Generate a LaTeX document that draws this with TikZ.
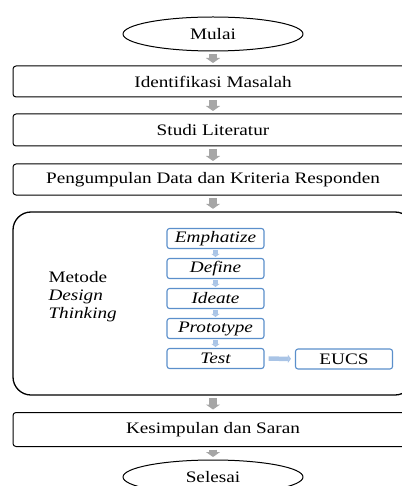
\documentclass[tikz,border=0pt]{standalone}
\usepackage{fontspec}
\setmainfont{Liberation Serif}[FakeStretch=1.2]
\usetikzlibrary{shapes.geometric,arrows.meta}
\definecolor{garisbiru}{HTML}{5B8FCB}
\definecolor{panahabu}{HTML}{A6A6A6}
\definecolor{panahbiru}{HTML}{A9C4E6}
\begin{document}
\begin{tikzpicture}[x=1pt,y=-1pt,line join=round]
			\tikzset{every node/.style={font=\fontsize{16}{18}\selectfont},
				kotak/.style={draw,rounded corners=3pt,line width=1pt,minimum width=400pt,minimum height=32pt,inner sep=0pt},
				oval/.style={draw,ellipse,line width=1pt,minimum width=180pt,minimum height=34pt,inner sep=0pt},
				tahap/.style={draw=garisbiru,rounded corners=2.5pt,line width=1.1pt,minimum width=97pt,minimum height=20pt,inner sep=0pt,font=\fontsize{16}{18}\selectfont\itshape},
				panah/.style={draw=panahabu,line width=8pt,-{Triangle[width=14pt,length=5pt]},shorten <=2.5pt,shorten >=2.5pt},
				panahkecil/.style={draw=panahbiru,line width=4.5pt,-{Triangle[width=8pt,length=3pt]},shorten <=1pt,shorten >=1pt}}
			\useasboundingbox (0,0) rectangle (401,486);
			\node[oval] (mulai) at (213,34) {Mulai};
			\node[kotak,minimum height=31pt] (identifikasi) at (213,81.5) {Identifikasi Masalah};
			\node[kotak] (studi) at (213,130) {Studi Literatur};
			\node[kotak,minimum height=31pt] (data) at (213,179.5) {Pengumpulan Data dan Kriteria Responden};
			\node[kotak,rounded corners=18pt,line width=1.3pt,minimum height=183pt] (metode) at (213,303.5) {};
			\node[kotak,minimum height=34pt] (kesimpulan) at (213,429.5) {Kesimpulan dan Saran};
			\node[oval] (selesai) at (213,477) {Selesai};
			\node[anchor=west,align=left] (label) at (45,297) {Metode\\\textit{Design}\\\textit{Thinking}};
			\foreach \nama/\teks [count=\i from 0] in {emp/Emphatize,def/Define,ide/Ideate,pro/Prototype,tes/Test}
			\node[tahap] (\nama) at (215.5,{238.5+30*\i}) {\teks};
			\node[tahap,font=\fontsize{16}{18}\selectfont] (eucs) at (344,359) {EUCS};
			\foreach \a/\b in {mulai/identifikasi,identifikasi/studi,studi/data,data/metode,metode/kesimpulan,kesimpulan/selesai}
			\draw[panah] (\a) -- (\b);
			\foreach \a/\b in {emp/def,def/ide,ide/pro,pro/tes}
			\draw[panahkecil] (\a) -- (\b);
			\draw[panahkecil,shorten <=4pt,shorten >=4pt] (tes) -- (eucs);
	\end{tikzpicture}
\end{document}
